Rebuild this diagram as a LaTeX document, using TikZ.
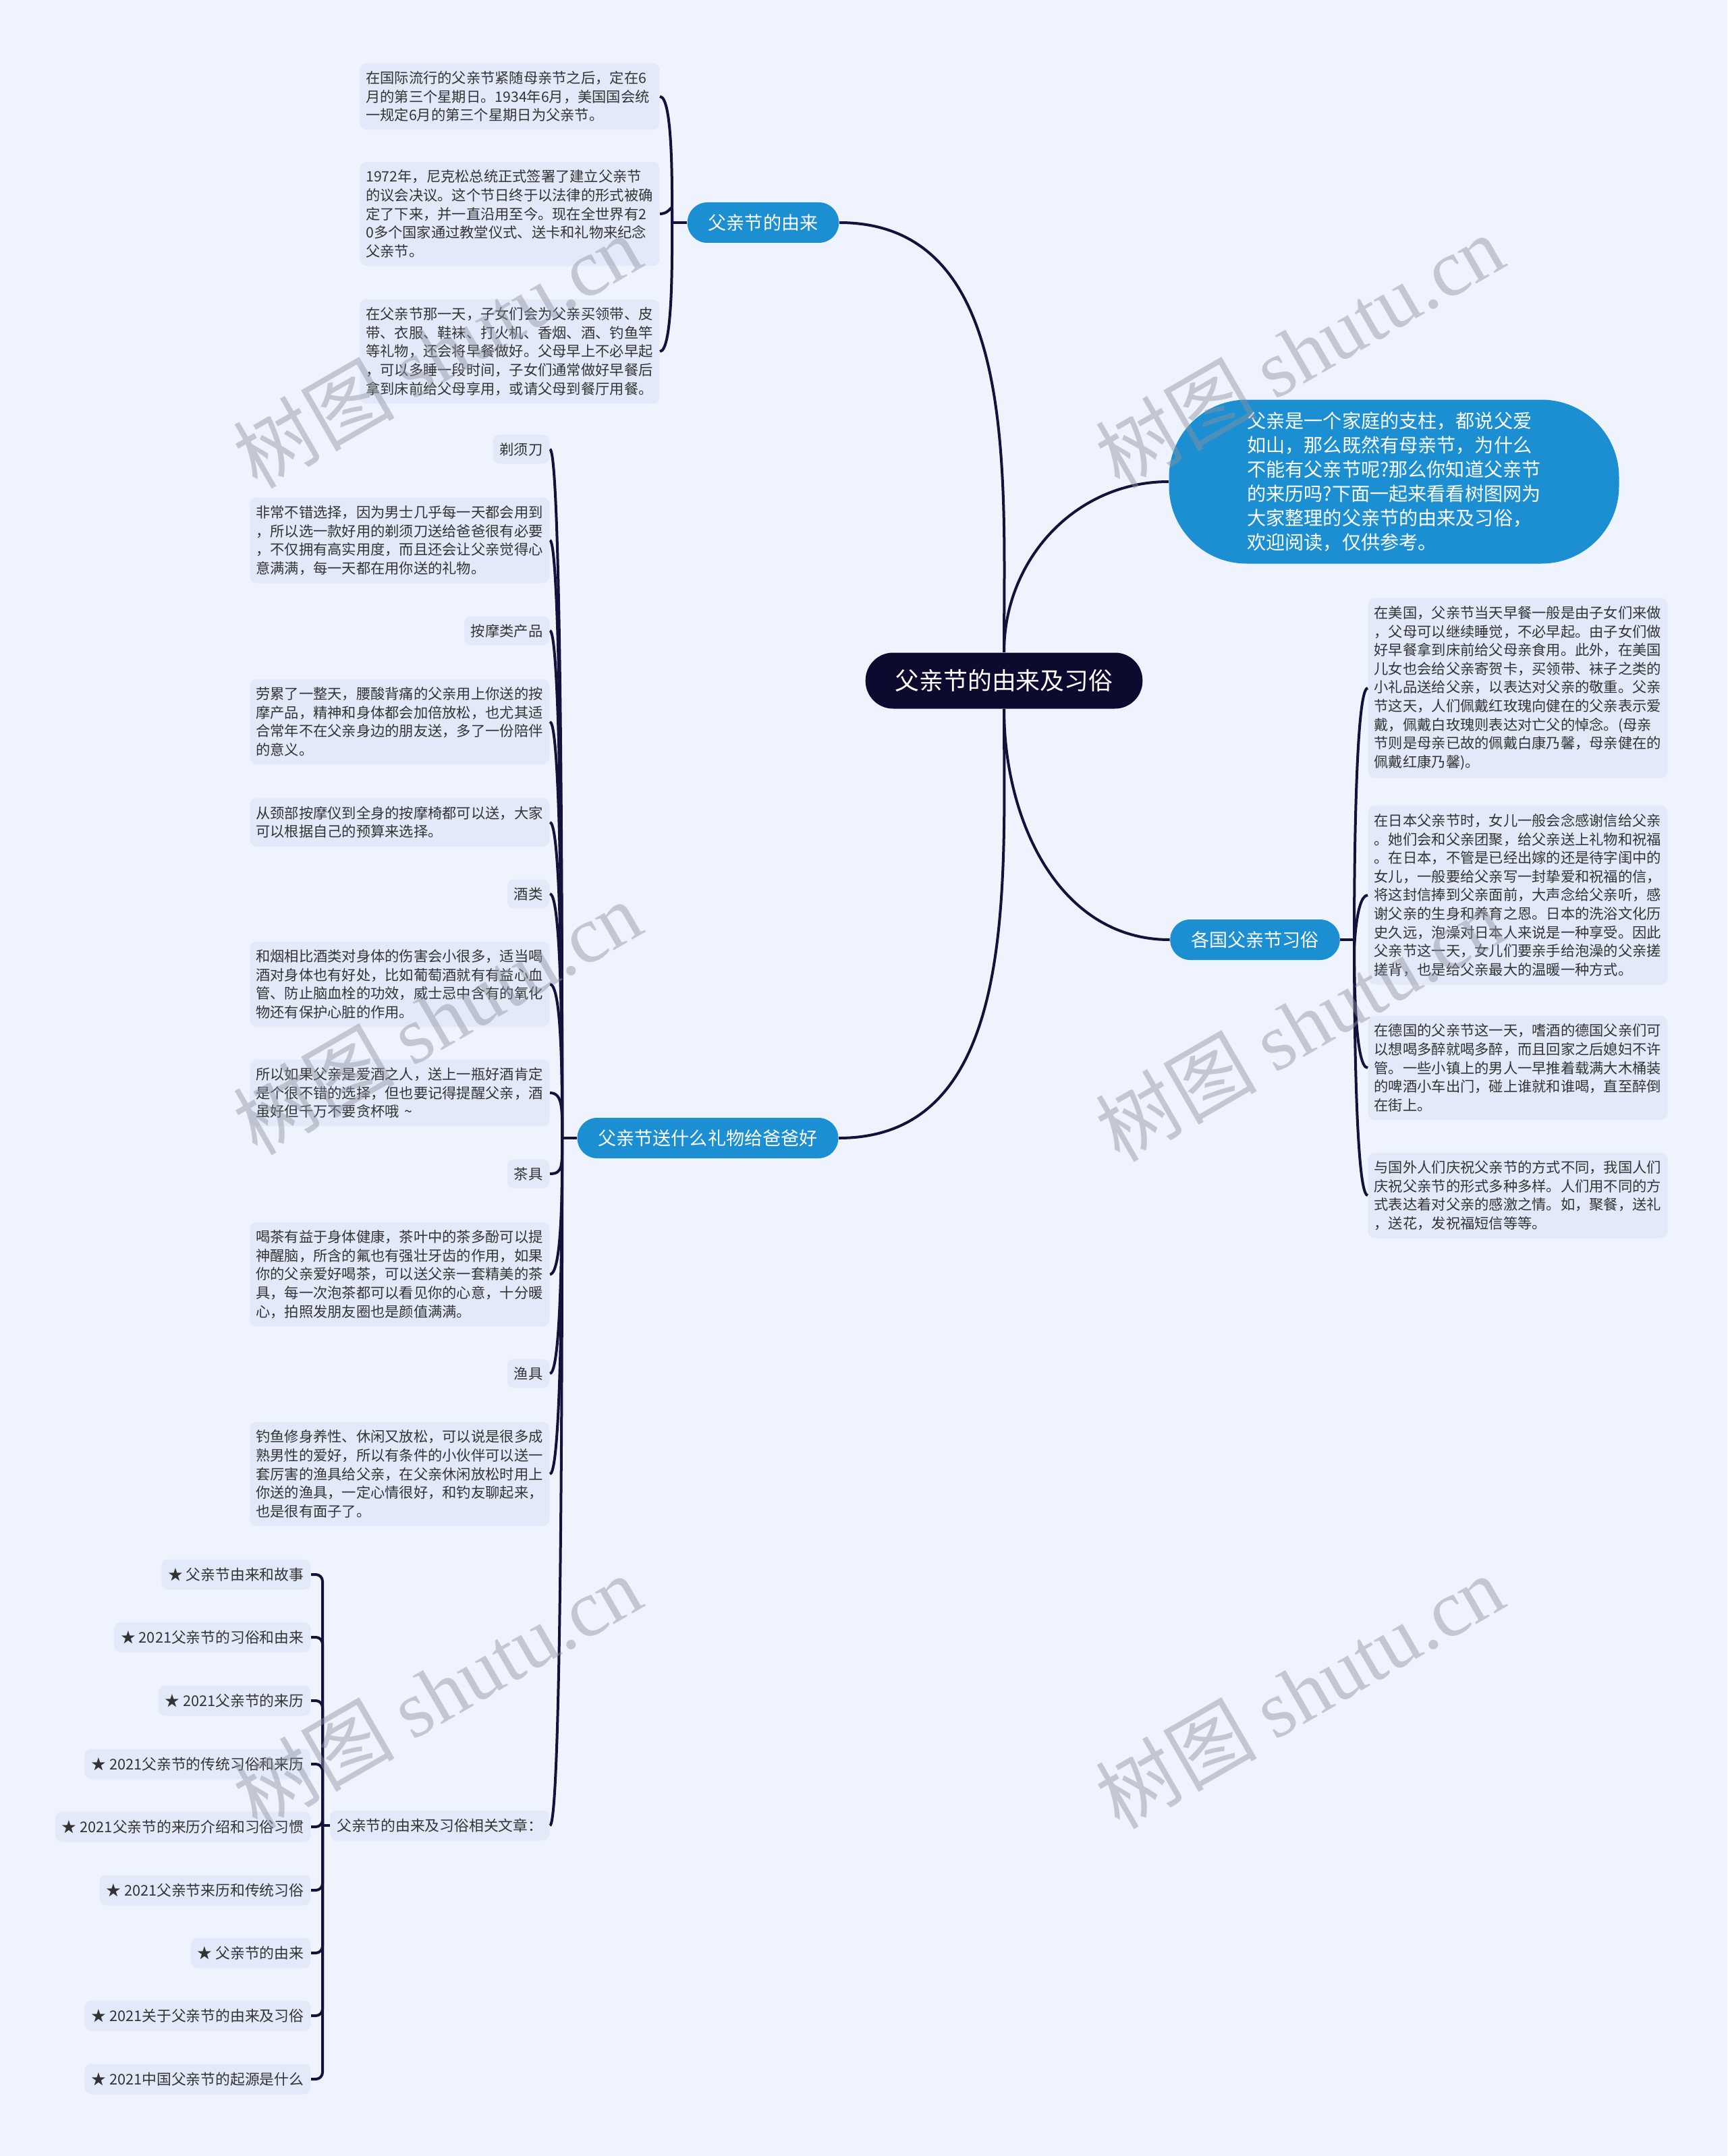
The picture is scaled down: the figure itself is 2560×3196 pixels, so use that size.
\documentclass[tikz,border=0pt]{standalone}
\usepackage{fontspec}
\setmainfont{Noto Sans CJK SC}
\newfontfamily\markserif{Liberation Serif}
\usepackage{xcolor}
\definecolor{MapBack}{HTML}{EEF3FE}
\definecolor{MapLeaf}{HTML}{E2EAFA}
\definecolor{MapBlue}{HTML}{1B8FD2}
\definecolor{MapNavy}{HTML}{0C0A2E}
\definecolor{MapLine}{HTML}{12123A}
\definecolor{MapInk}{HTML}{333333}
\definecolor{MapMark}{HTML}{8F939F}
\newcommand\leaffont{\fontsize{6.05pt}{7.85pt}\selectfont}
\newcommand\listfont{\fontsize{6.2pt}{7.85pt}\selectfont}
\newcommand\branchfont{\fontsize{7.7pt}{9pt}\selectfont}
\newcommand\introfont{\fontsize{8pt}{10.2pt}\selectfont}
\newcommand\rootfont{\fontsize{10.2pt}{12pt}\selectfont}
\newcommand\wmarkfont{\fontsize{34pt}{34pt}\selectfont}

\begin{document}
\begin{tikzpicture}[x=0.1mm,y=0.1mm,
  link/.style={draw=MapLine,line width=0.4mm},
  root/.style={fill=MapNavy,text=white,font=\rootfont,rounded corners=4.1mm,minimum height=8.3mm,inner xsep=4.4mm},
  branch/.style={fill=MapBlue,text=white,font=\branchfont,rounded corners=2.95mm,minimum height=6mm,inner xsep=3.1mm},
  intro/.style={fill=MapBlue,text=white,font=\introfont,rounded corners=11.5mm,minimum width=66.7mm,minimum height=24.3mm,align=left},
  leaf/.style={fill=MapLeaf,text=MapInk,font=\leaffont,rounded corners=1mm,text width=42.6mm,align=left,inner xsep=0.9mm,inner ysep=1.2mm},
  tag/.style={fill=MapLeaf,text=MapInk,font=\leaffont,rounded corners=1mm,minimum height=4.2mm,inner xsep=1mm},
  item/.style={tag,font=\listfont,minimum height=4.5mm},
  wmark/.style={text=MapMark,opacity=0.45,font=\wmarkfont,rotate=30}]
  \fill[MapBack] (0,0) rectangle (2560,-3196);
  \useasboundingbox (0,0) rectangle (2560,-3196);

  \node[root] (root) at (1488,-1009) {父亲节的由来及习俗};
  \node[branch] (origin) at (1131,-330) {父亲节的由来};
  \node[intro] (intro) at (2066,-714) {父亲是一个家庭的支柱，都说父爱\\如山，那么既然有母亲节，为什么\\不能有父亲节呢?那么你知道父亲节\\的来历吗?下面一起来看看树图网为\\大家整理的父亲节的由来及习俗，\\欢迎阅读，仅供参考。};
  \node[branch] (customs) at (1860,-1393) {各国父亲节习俗};
  \node[branch] (gifts) at (1049,-1687) {父亲节送什么礼物给爸爸好};

  \node[leaf,anchor=east] (h1) at (978,-143) {在国际流行的父亲节紧随母亲节之后，定在6\\月的第三个星期日。1934年6月，美国国会统\\一规定6月的第三个星期日为父亲节。};
  \node[leaf,anchor=east] (h2) at (978,-317) {1972年，尼克松总统正式签署了建立父亲节\\的议会决议。这个节日终于以法律的形式被确\\定了下来，并一直沿用至今。现在全世界有2\\0多个国家通过教堂仪式、送卡和礼物来纪念\\父亲节。};
  \node[leaf,anchor=east] (h3) at (978,-521) {在父亲节那一天，子女们会为父亲买领带、皮\\带、衣服、鞋袜、打火机、香烟、酒、钓鱼竿\\等礼物，还会将早餐做好。父母早上不必早起\\，可以多睡一段时间，子女们通常做好早餐后\\拿到床前给父母享用，或请父母到餐厅用餐。};

  \node[leaf,anchor=west] (c1) at (2027,-1020) {在美国，父亲节当天早餐一般是由子女们来做\\，父母可以继续睡觉，不必早起。由子女们做\\好早餐拿到床前给父母亲食用。此外，在美国\\儿女也会给父亲寄贺卡，买领带、袜子之类的\\小礼品送给父亲，以表达对父亲的敬重。父亲\\节这天，人们佩戴红玫瑰向健在的父亲表示爱\\戴，佩戴白玫瑰则表达对亡父的悼念。(母亲\\节则是母亲已故的佩戴白康乃馨，母亲健在的\\佩戴红康乃馨)。};
  \node[leaf,anchor=west] (c2) at (2027,-1327) {在日本父亲节时，女儿一般会念感谢信给父亲\\。她们会和父亲团聚，给父亲送上礼物和祝福\\。在日本，不管是已经出嫁的还是待字闺中的\\女儿，一般要给父亲写一封挚爱和祝福的信，\\将这封信捧到父亲面前，大声念给父亲听，感\\谢父亲的生身和养育之恩。日本的洗浴文化历\\史久远，泡澡对日本人来说是一种享受。因此\\父亲节这一天，女儿们要亲手给泡澡的父亲搓\\搓背，也是给父亲最大的温暖一种方式。};
  \node[leaf,anchor=west] (c3) at (2027,-1583) {在德国的父亲节这一天，嗜酒的德国父亲们可\\以想喝多醉就喝多醉，而且回家之后媳妇不许\\管。一些小镇上的男人一早推着载满大木桶装\\的啤酒小车出门，碰上谁就和谁喝，直至醉倒\\在街上。};
  \node[leaf,anchor=west] (c4) at (2027,-1772) {与国外人们庆祝父亲节的方式不同，我国人们\\庆祝父亲节的形式多种多样。人们用不同的方\\式表达着对父亲的感激之情。如，聚餐，送礼\\，送花，发祝福短信等等。};

  \node[tag,anchor=east] (g1) at (815,-666) {剃须刀};
  \node[leaf,anchor=east] (g2) at (815,-801) {非常不错选择，因为男士几乎每一天都会用到\\，所以选一款好用的剃须刀送给爸爸很有必要\\，不仅拥有高实用度，而且还会让父亲觉得心\\意满满，每一天都在用你送的礼物。};
  \node[tag,anchor=east] (g3) at (815,-935) {按摩类产品};
  \node[leaf,anchor=east] (g4) at (815,-1070) {劳累了一整天，腰酸背痛的父亲用上你送的按\\摩产品，精神和身体都会加倍放松，也尤其适\\合常年不在父亲身边的朋友送，多了一份陪伴\\的意义。};
  \node[leaf,anchor=east] (g5) at (815,-1219) {从颈部按摩仪到全身的按摩椅都可以送，大家\\可以根据自己的预算来选择。};
  \node[tag,anchor=east] (g6) at (815,-1325) {酒类};
  \node[leaf,anchor=east] (g7) at (815,-1459) {和烟相比酒类对身体的伤害会小很多，适当喝\\酒对身体也有好处，比如葡萄酒就有有益心血\\管、防止脑血栓的功效，威士忌中含有的氧化\\物还有保护心脏的作用。};
  \node[leaf,anchor=east] (g8) at (815,-1620) {所以如果父亲是爱酒之人，送上一瓶好酒肯定\\是个很不错的选择，但也要记得提醒父亲，酒\\虽好但千万不要贪杯哦 \textasciitilde};
  \node[tag,anchor=east] (g9) at (815,-1740) {茶具};
  \node[leaf,anchor=east] (g10) at (815,-1889) {喝茶有益于身体健康，茶叶中的茶多酚可以提\\神醒脑，所含的氟也有强壮牙齿的作用，如果\\你的父亲爱好喝茶，可以送父亲一套精美的茶\\具，每一次泡茶都可以看见你的心意，十分暖\\心，拍照发朋友圈也是颜值满满。};
  \node[tag,anchor=east] (g11) at (815,-2036) {渔具};
  \node[leaf,anchor=east] (g12) at (815,-2185) {钓鱼修身养性、休闲又放松，可以说是很多成\\熟男性的爱好，所以有条件的小伙伴可以送一\\套厉害的渔具给父亲，在父亲休闲放松时用上\\你送的渔具，一定心情很好，和钓友聊起来，\\也是很有面子了。};
  \node[item,anchor=east] (related) at (815,-2706) {父亲节的由来及习俗相关文章：};

  \node[item,anchor=east] (r1) at (461,-2334) {★ 父亲节由来和故事};
  \node[item,anchor=east] (r2) at (461,-2427) {★ 2021父亲节的习俗和由来};
  \node[item,anchor=east] (r3) at (461,-2521) {★ 2021父亲节的来历};
  \node[item,anchor=east] (r4) at (461,-2615) {★ 2021父亲节的传统习俗和来历};
  \node[item,anchor=east] (r5) at (461,-2708) {★ 2021父亲节的来历介绍和习俗习惯};
  \node[item,anchor=east] (r6) at (461,-2802) {★ 2021父亲节来历和传统习俗};
  \node[item,anchor=east] (r7) at (461,-2895) {★ 父亲节的由来};
  \node[item,anchor=east] (r8) at (461,-2988) {★ 2021关于父亲节的由来及习俗};
  \node[item,anchor=east] (r9) at (461,-3082) {★ 2021中国父亲节的起源是什么};

  \coordinate (hs) at (996,-330);
  \coordinate (cs) at (2007,-1393);
  \coordinate (gs) at (833,-1687);
  \coordinate (rs) at (478,-2706);

  \draw[link] (root.north) to[out=90,in=0] (origin.east);
  \draw[link] (root.north) to[out=90,in=180] (intro.west);
  \draw[link] (root.south) to[out=-90,in=180] (customs.west);
  \draw[link] (root.south) to[out=-90,in=0] (gifts.east);

  \draw[link] (origin.west) -- (hs);
  \foreach \n in {h1,h2} \draw[link] (hs) to[out=90,in=0,out distance=4mm,in distance=2mm] (\n.east);
  \draw[link] (hs) to[out=-90,in=0,out distance=4mm,in distance=2mm] (h3.east);

  \draw[link] (customs.east) -- (cs);
  \draw[link] (cs) to[out=90,in=180,out distance=4mm,in distance=2mm] (c1.west);
  \foreach \n in {c2,c3,c4} \draw[link] (cs) to[out=-90,in=180,out distance=4mm,in distance=2mm] (\n.west);

  \draw[link] (gifts.west) -- (gs);
  \foreach \n in {g1,g2,g3,g4,g5,g6,g7,g8} \draw[link] (gs) to[out=90,in=0,out distance=4mm,in distance=2mm] (\n.east);
  \foreach \n in {g9,g10,g11,g12,related} \draw[link] (gs) to[out=-90,in=0,out distance=4mm,in distance=2mm] (\n.east);

  \draw[link] (related.west) -- (rs);
  \foreach \n in {r1,r2,r3,r4,r5,r6,r7,r8,r9} \draw[link,rounded corners=1mm] (rs) |- (\n.east);

  \foreach \wx/\wy in {648/-520,1926/-520,648/-1508,1926/-1518,648/-2507,1926/-2507}
    \node[wmark] at (\wx,\wy) {树图 {\markserif shutu.cn}};
\end{tikzpicture}
\end{document}
